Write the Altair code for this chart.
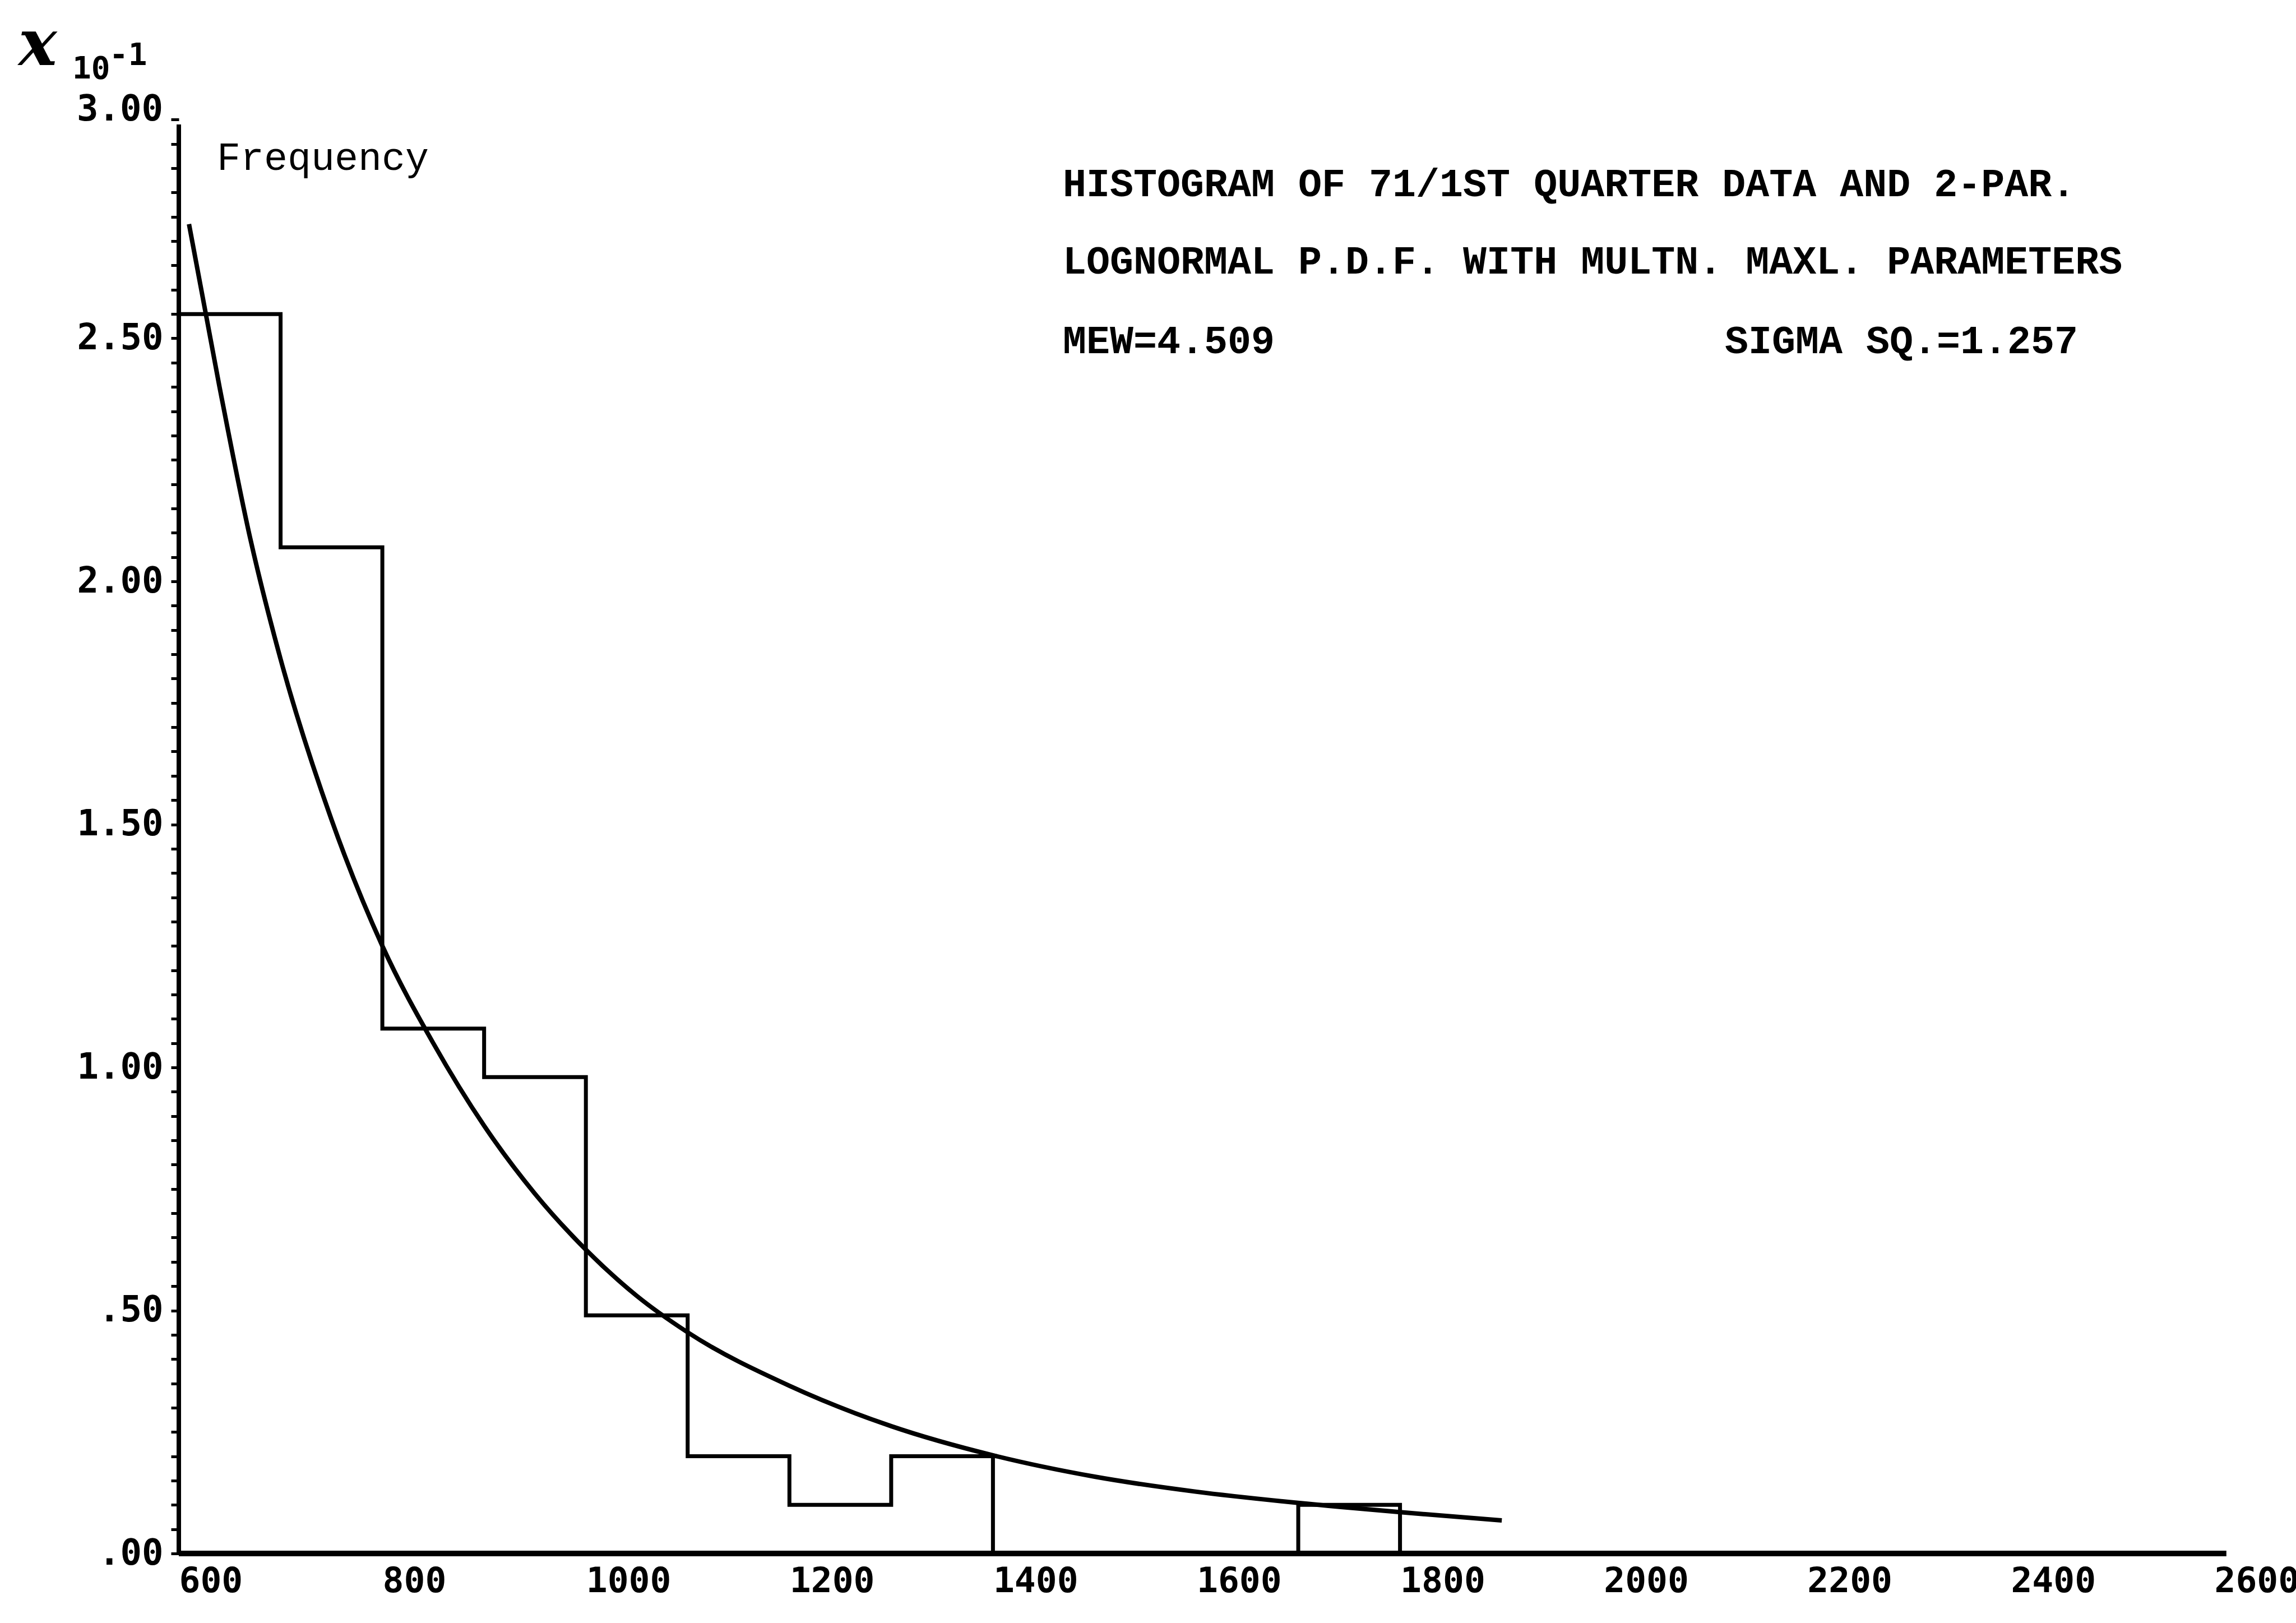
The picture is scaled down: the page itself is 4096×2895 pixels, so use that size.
import altair as alt
import pandas as pd

# ---------------- data ----------------
bin_edges = [600, 700, 800, 900, 1000, 1100, 1200, 1300, 1400, 1500, 1600, 1700, 1800]
bin_freq = [2.55, 2.07, 1.08, 0.98, 0.49, 0.20, 0.10, 0.20, 0.0, 0.0, 0.0, 0.10]

curve_x = [610, 640, 670, 700, 750, 800, 850, 900, 950, 1000, 1050, 1100,
           1200, 1300, 1400, 1500, 1600, 1700, 1800, 1900]
curve_y = [2.735, 2.40, 2.09, 1.84, 1.51, 1.25, 1.05, 0.88, 0.74, 0.625, 0.53, 0.455,
           0.345, 0.262, 0.202, 0.158, 0.127, 0.104, 0.085, 0.068]

x_tick_values = [600, 800, 1000, 1200, 1400, 1600, 1800, 2000, 2200, 2400, 2600]
y_tick_values = [round(0.05 * i, 2) for i in range(60)]
y_top_label = "3.00"

title_line1 = "HISTOGRAM OF 71/1ST QUARTER DATA AND 2-PAR."
title_line2 = "LOGNORMAL P.D.F. WITH MULTN. MAXL. PARAMETERS"
mew_text = "MEW=4.509"
sigma_text = "SIGMA SQ.=1.257"
freq_text = "Frequency"

# ---------------- tables ----------------
step_x = [bin_edges[0]] + bin_edges
step_y = [0.0] + bin_freq + [0.0]
hist_df = pd.DataFrame({"x": step_x, "y": step_y, "i": list(range(len(step_x)))})
curve_df = pd.DataFrame({"x": curve_x, "y": curve_y, "i": list(range(len(curve_x)))})
one = pd.DataFrame({"k": [0]})

MONO = "DejaVu Sans Mono"
TMONO = "Liberation Mono"

x_enc = alt.X(
    "x:Q",
    scale=alt.Scale(domain=[600, 2600], nice=False, zero=False),
    axis=alt.Axis(
        values=x_tick_values, format="d", title=None, grid=False, domain=False,
        ticks=False, labelAlign="left", labelFlush=False, labelOverlap=False,
        labelPadding=18, labelFont=MONO, labelFontSize=63, labelFontWeight="bold",
        labelColor="black",
    ),
)
y_enc = alt.Y(
    "y:Q",
    scale=alt.Scale(domain=[0, 3.0], nice=False, zero=True),
    axis=alt.Axis(
        values=y_tick_values, title=None, grid=False, domain=False,
        tickSize=14, tickWidth=5, tickColor="black",
        labelExpr="abs(datum.value*2 - round(datum.value*2)) < 0.001 ? "
                  "(datum.value < 1 ? substring(format(datum.value, '.2f'), 1) : format(datum.value, '.2f')) : ''",
        labelOverlap=False, labelFlush=False, labelPadding=14,
        labelFont=MONO, labelFontSize=64, labelFontWeight="bold", labelColor="black",
    ),
)

hist = alt.Chart(hist_df).mark_line(
    interpolate="step-after", color="black", strokeWidth=7
).encode(x=x_enc, y=y_enc, order="i:Q")

curve = alt.Chart(curve_df).mark_line(
    interpolate="monotone", color="black", strokeWidth=8
).encode(x=alt.X("x:Q"), y=alt.Y("y:Q"), order="i:Q")

y_axis_line = alt.Chart(one).mark_rule(color="black", strokeWidth=8).encode(
    x=alt.datum(600), y=alt.datum(0), y2=alt.datum(2.94)
)
x_axis_line = alt.Chart(one).mark_rule(color="black", strokeWidth=10).encode(
    x=alt.datum(600), x2=alt.datum(2612), y=alt.datum(0)
)


def label(text, px, py, size, font, weight="bold", style="normal",
          align="left", baseline="alphabetic"):
    return alt.Chart(pd.DataFrame({"t": [text]})).mark_text(
        font=font, fontSize=size, fontWeight=weight, fontStyle=style,
        align=align, baseline=baseline, color="black",
    ).encode(x=alt.value(px), y=alt.value(py), text="t:N")


texts = [
    label(title_line1, 1577, 180, 70, TMONO),
    label(title_line2, 1577, 318, 70, TMONO),
    label(mew_text, 1577, 460, 70, TMONO),
    label(sigma_text, 2758, 460, 70, TMONO),
    label(freq_text, 68, 133, 70, TMONO, weight="normal"),
    label(y_top_label, -28, 26, 64, MONO, align="right", baseline="middle"),
    label("x", -286, -54, 115, "DejaVu Serif", weight="bold", style="italic"),
    label("10", -190, -30, 56, MONO),
    label("-1", -124, -54, 56, MONO),
]

chart = alt.layer(hist, curve, y_axis_line, x_axis_line, *texts).properties(
    width=3631,
    height=2601,
    padding={"left": 319, "top": 170, "right": 146, "bottom": 124},
    autosize=alt.AutoSizeParams(type="none"),
    background="white",
).configure_view(stroke=None)

chart.save("out.html", embed_options={"renderer": "svg", "actions": False})
